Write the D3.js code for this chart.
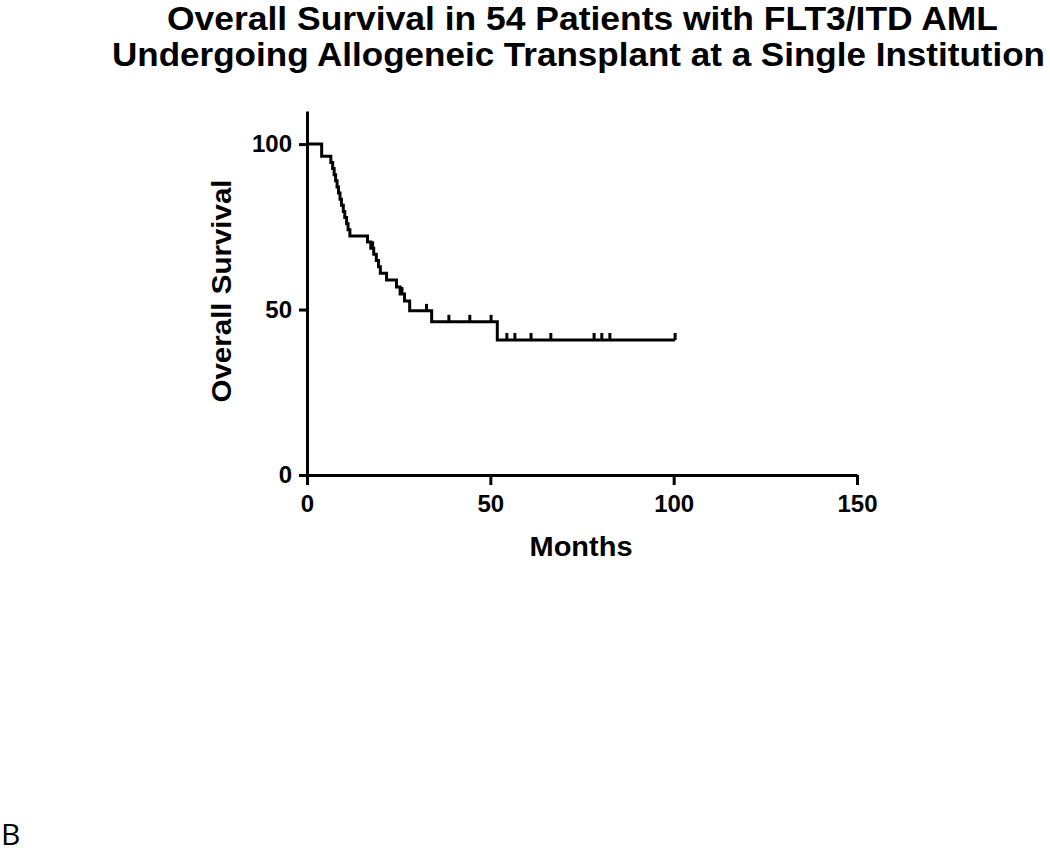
<!DOCTYPE html>
<html>
<head>
<meta charset="utf-8">
<script src="https://cdn.jsdelivr.net/npm/d3@7"></script>
<style>
  html, body { margin: 0; padding: 0; background: #fff; }
  svg { display: block; }
</style>
</head>
<body>
<svg id="chart" width="1050" height="854"></svg>
<script>
// ---- data ----
const titleLines = [
  "Overall Survival in 54 Patients with FLT3/ITD AML",
  "Undergoing Allogeneic Transplant at a Single Institution"
];
const xLabel = "Months";
const yLabel = "Overall Survival";
const panelLetter = "B";
const xTicks = [0, 50, 100, 150];
const yTicks = [0, 50, 100];
// Kaplan-Meier steps: time (months) where survival changes, and survival (%) after it
const stepTimes = [0, 4.0, 6.5, 7.0, 7.4, 7.8, 8.2, 8.6, 9.0, 9.4, 9.9, 10.3, 10.8, 11.2, 11.7,
                   16.5, 17.4, 18.2, 18.9, 19.5, 20.0, 21.7, 24.4, 25.4, 26.6, 28.0, 34.0, 51.9];
const stepSurv  = [100, 96.3, 94.4, 92.6, 90.7, 88.9, 87.0, 85.2, 83.3, 81.5, 79.6, 77.8, 75.9, 74.1, 72.2,
                   70.4, 68.5, 66.7, 64.8, 62.9, 61.0, 58.9, 56.8, 54.7, 52.6, 49.6, 46.3, 40.8];
const lastFollowUp = 100.4;
// censored observations (months)
const censorTimes = [17.9, 25.9, 32.6, 38.7, 44.4, 50.2, 54.5, 56.7, 61.1, 66.5, 78.3, 80.4, 82.6, 100.4];

// ---- drawing ----
const svg = d3.select("#chart");
const x = d3.scaleLinear().domain([0, 150]).range([307, 857]);
const y = d3.scaleLinear().domain([0, 110]).range([475, 111]);

// title
svg.selectAll("text.title")
  .data(titleLines)
  .join("text")
  .attr("class", "title")
  .attr("x", (d, i) => i === 0 ? 582.5 : 578.5)
  .attr("y", (d, i) => i === 0 ? 30 : 66)
  .attr("text-anchor", "middle")
  .attr("font-family", "Liberation Sans, Arial, sans-serif")
  .attr("font-weight", "bold")
  .attr("font-size", 33)
  .attr("textLength", (d, i) => i === 0 ? 831 : 933)
  .attr("lengthAdjust", "spacingAndGlyphs")
  .attr("fill", "#000")
  .text(d => d);

// axes
const fontFam = "Liberation Sans, Arial, sans-serif";
const yAxis = svg.append("g")
  .attr("transform", `translate(${x(0)},0)`)
  .call(d3.axisLeft(y).tickValues(yTicks).tickSize(8).tickSizeOuter(0).tickPadding(7));
const xAxis = svg.append("g")
  .attr("transform", `translate(0,${y(0)})`)
  .call(d3.axisBottom(x).tickValues(xTicks).tickSize(10).tickSizeOuter(0).tickPadding(10));

[yAxis, xAxis].forEach(g => {
  g.select(".domain").attr("stroke", "#000").attr("stroke-width", 3);
  g.selectAll(".tick line").attr("stroke", "#000").attr("stroke-width", 3);
  g.selectAll(".tick text")
    .attr("fill", "#000")
    .attr("font-family", fontFam)
    .attr("font-weight", "bold")
    .attr("font-size", 24);
});

// axis titles
svg.append("text")
  .attr("x", 581).attr("y", 556)
  .attr("text-anchor", "middle")
  .attr("font-family", fontFam)
  .attr("font-weight", "bold")
  .attr("font-size", 27)
  .attr("textLength", 103)
  .attr("lengthAdjust", "spacingAndGlyphs")
  .text(xLabel);

svg.append("text")
  .attr("transform", "translate(231,291) rotate(-90)")
  .attr("text-anchor", "middle")
  .attr("font-family", fontFam)
  .attr("font-weight", "bold")
  .attr("font-size", 27)
  .attr("textLength", 223)
  .attr("lengthAdjust", "spacingAndGlyphs")
  .text(yLabel);

// survival curve
const pts = stepTimes.map((t, i) => [t, stepSurv[i]]);
pts.push([lastFollowUp, stepSurv[stepSurv.length - 1]]);
const line = d3.line().x(d => x(d[0])).y(d => y(d[1])).curve(d3.curveStepAfter);
svg.append("path")
  .datum(pts)
  .attr("d", line)
  .attr("fill", "none")
  .attr("stroke", "#000")
  .attr("stroke-width", 3)
  .attr("stroke-linejoin", "miter");

// censor ticks
function survAt(t) {
  let s = 100;
  for (let i = 0; i < stepTimes.length; i++) if (stepTimes[i] <= t) s = stepSurv[i];
  return s;
}
svg.selectAll("line.censor")
  .data(censorTimes)
  .join("line")
  .attr("class", "censor")
  .attr("x1", d => x(d)).attr("x2", d => x(d))
  .attr("y1", d => y(survAt(d)))
  .attr("y2", d => y(survAt(d)) - 7)
  .attr("stroke", "#000")
  .attr("stroke-width", 3);

// panel letter
svg.append("text")
  .attr("x", 1).attr("y", 845)
  .attr("font-family", "Open Sans, Noto Sans, sans-serif")
  .attr("font-size", 30)
  .attr("fill", "#000")
  .text(panelLetter);
</script>
</body>
</html>
